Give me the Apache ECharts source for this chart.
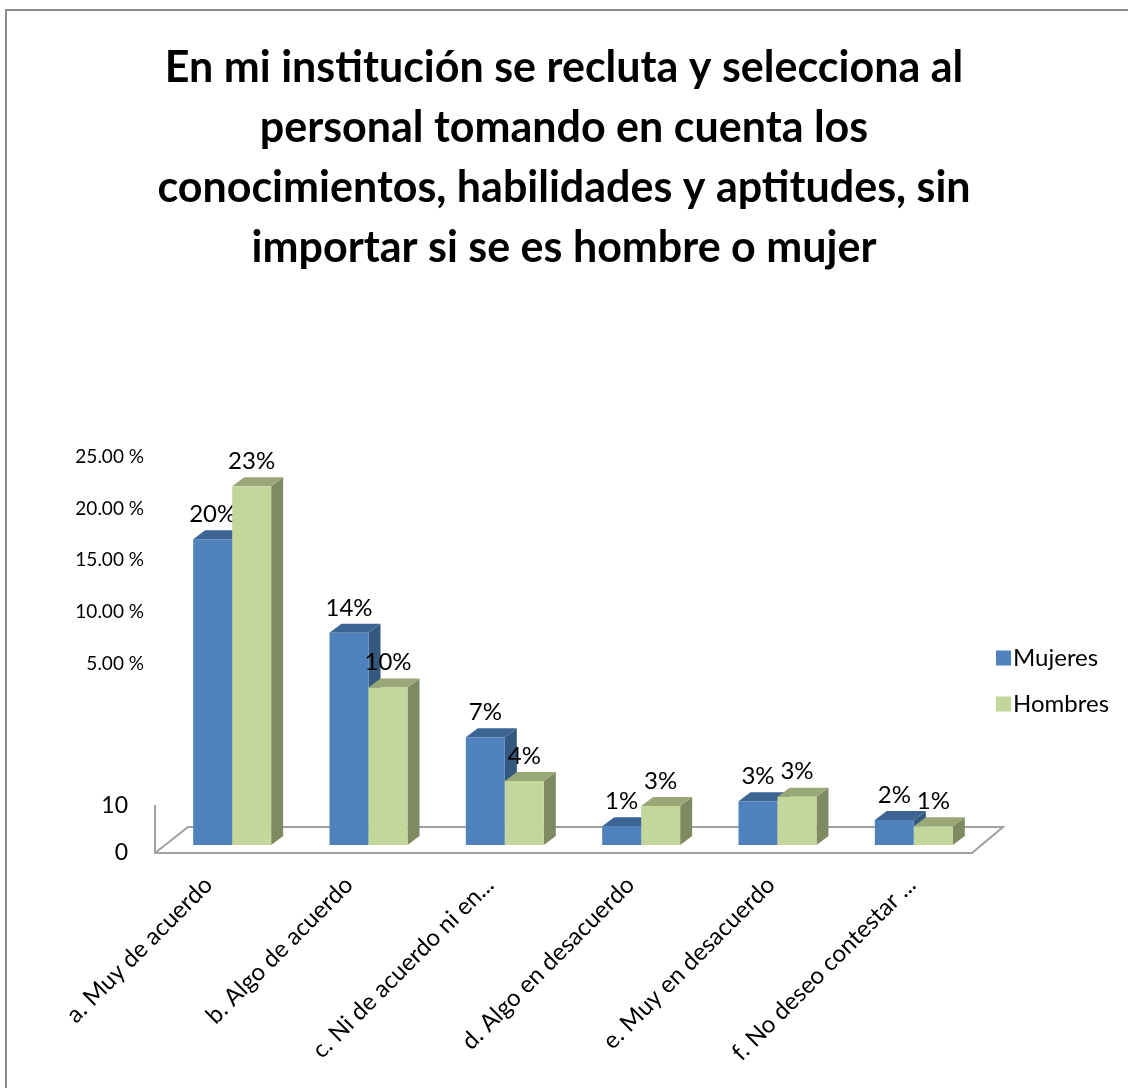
<!DOCTYPE html>
<html lang="es">
<head>
    <meta charset="UTF-8">
    <title>Reclutamiento y selección</title>
    <style>
        html, body { margin: 0; padding: 0; background: #fff; }
        #main { width: 1128px; height: 1088px; }
    </style>
</head>
<body>
<div id="main"></div>
<script src="https://cdn.jsdelivr.net/npm/echarts@6/dist/echarts.min.js"></script>
<script>
    var categories = ['a. Muy de acuerdo', 'b. Algo de acuerdo', 'c. Ni de acuerdo ni en...',
        'd. Algo en desacuerdo', 'e. Muy en desacuerdo', 'f. No deseo contestar ...'];
    var mujeres = [19.6, 13.6, 6.9, 1.2, 2.8, 1.6];
    var hombres = [23.0, 10.1, 4.1, 2.5, 3.1, 1.2];
    var yTicks = [5, 10, 15, 20, 25];

    var FONT = 'Lato, "Open Sans", sans-serif';
    var DX = 12, DY = -9;   // 3d depth of the bars

    // colors: front, top, side
    var faces = {
        Mujeres: ['#4F81BD', '#3D6594', '#35587F'],
        Hombres: ['#C3D69B', '#9AA777', '#7E8A60']
    };

    var bar3d = function (name, side) {
        var c = faces[name];
        return function (params, api) {
            var idx = api.value(0);
            var val = api.value(1);
            var base = api.coord([idx, 0]);
            var top = api.coord([idx, val]);
            var w = api.size([1, 0])[0] * 0.286;
            var x0 = side < 0 ? base[0] - w : base[0];
            var x1 = x0 + w;
            var y0 = top[1], y1 = base[1];
            return {
                type: 'group',
                children: [
                    {
                        type: 'polygon',
                        shape: {points: [[x1, y1], [x1 + DX, y1 + DY], [x1 + DX, y0 + DY], [x1, y0]]},
                        style: {fill: c[2]}
                    },
                    {
                        type: 'polygon',
                        shape: {points: [[x0, y0], [x0 + DX, y0 + DY], [x1 + DX, y0 + DY], [x1, y0]]},
                        style: {fill: c[1]}
                    },
                    {
                        type: 'rect',
                        shape: {x: x0, y: y0, width: w, height: y1 - y0},
                        style: {fill: c[0]}
                    },
                    {
                        type: 'text',
                        style: {
                            x: (x0 + x1) / 2, y: y0 - 25,
                            text: Math.round(val) + '%',
                            align: 'center', verticalAlign: 'middle',
                            font: '24px ' + FONT, fill: '#000'
                        }
                    }
                ]
            };
        };
    };

    var toData = function (arr) {
        return arr.map(function (v, i) { return [i, v]; });
    };

    var option = {
        animation: false,
        backgroundColor: '#fff',
        title: {
            text: 'En mi institución se recluta y selecciona al\npersonal tomando en cuenta los\nconocimientos, habilidades y aptitudes, sin\nimportar si se es hombre o mujer',
            left: 'center',
            top: 33,
            textStyle: {fontFamily: FONT, fontWeight: 'bold', fontSize: 43, lineHeight: 60, color: '#000', align: 'center'}
        },
        legend: {
            orient: 'vertical',
            left: 991,
            top: 641,
            itemWidth: 15,
            itemHeight: 15,
            itemGap: 22,
            icon: 'rect',
            data: ['Mujeres', 'Hombres'],
            textStyle: {fontFamily: FONT, fontSize: 24, color: '#000', padding: [0, 0, 0, -3]}
        },
        grid: [
            {left: 164, width: 818, top: 455, height: 390},       // bars
            {left: 138, width: 844, top: 455, height: 390},       // category labels
            {left: 144, width: 10, top: 457, height: 258},        // percent labels
            {left: 136, width: 10, top: 806, height: 47}          // 0 / 10 labels
        ],
        xAxis: [
            {
                gridIndex: 0, type: 'category', data: categories,
                axisLine: {show: false}, axisTick: {show: false}, axisLabel: {show: false}
            },
            {
                gridIndex: 1, type: 'category', data: categories,
                axisLine: {show: false}, axisTick: {show: false},
                axisLabel: {
                    rotate: 45, margin: 36, interval: 0,
                    fontFamily: FONT, fontSize: 24, color: '#000'
                }
            },
            {gridIndex: 2, type: 'value', show: false},
            {gridIndex: 3, type: 'value', show: false}
        ],
        yAxis: [
            {gridIndex: 0, type: 'value', min: 0, max: 25, show: false, splitLine: {show: false}},
            {gridIndex: 1, type: 'value', min: 0, max: 25, show: false, splitLine: {show: false}},
            {
                gridIndex: 2, type: 'value', min: 0, max: 25, interval: 5,
                axisLine: {show: false}, axisTick: {show: false}, splitLine: {show: false},
                axisLabel: {
                    margin: 0, fontFamily: FONT, fontSize: 19, color: '#000',
                    formatter: function (v) {
                        return yTicks.indexOf(v) >= 0 ? v.toFixed(2) + ' %' : '';
                    }
                }
            },
            {
                gridIndex: 3, type: 'value', min: 0, max: 10, interval: 10,
                axisLine: {show: false}, axisTick: {show: false}, splitLine: {show: false},
                axisLabel: {margin: 8, fontFamily: FONT, fontSize: 23, color: '#000'}
            }
        ],
        graphic: [
            {
                type: 'rect', z: -10, silent: true,
                shape: {x: 6, y: 10, width: 1140, height: 1100},
                style: {fill: 'none', stroke: '#8c8c8c', lineWidth: 2}
            },
            {
                type: 'polyline', z: 0, silent: true,
                shape: {points: [[155, 805], [155, 853], [972, 853], [1003, 827], [188, 827], [155, 853]]},
                style: {fill: 'none', stroke: '#a0a0a0', lineWidth: 2}
            }
        ],
        series: [
            {
                name: 'Mujeres', type: 'custom', xAxisIndex: 0, yAxisIndex: 0, z: 5,
                itemStyle: {color: faces.Mujeres[0]},
                encode: {x: 0, y: 1},
                renderItem: bar3d('Mujeres', -1),
                data: toData(mujeres)
            },
            {
                name: 'Hombres', type: 'custom', xAxisIndex: 0, yAxisIndex: 0, z: 5,
                itemStyle: {color: faces.Hombres[0]},
                encode: {x: 0, y: 1},
                renderItem: bar3d('Hombres', 1),
                data: toData(hombres)
            }
        ]
    };

    var myChart = echarts.init(document.getElementById('main'));
    myChart.setOption(option);
</script>
</body>
</html>
